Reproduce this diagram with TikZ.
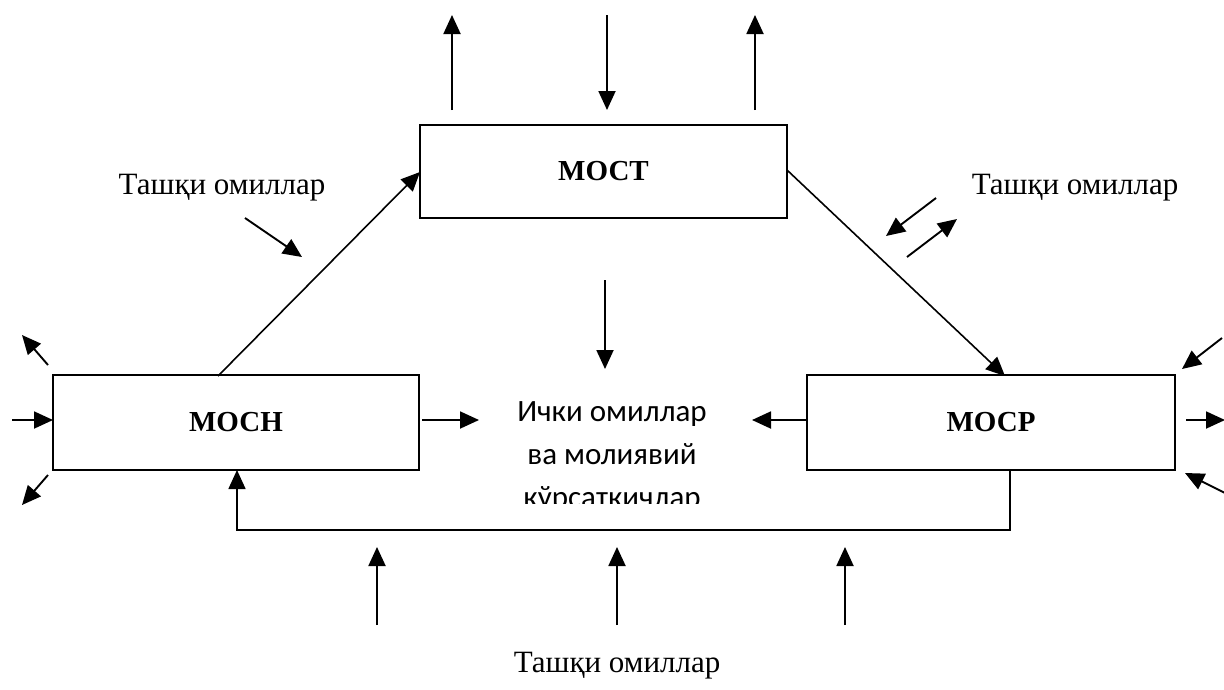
\documentclass[tikz,border=0pt]{standalone}
\usepackage{fontspec}
\setmainfont{Liberation Serif}
\newfontfamily\calib{Carlito}
\usetikzlibrary{arrows.meta}
\begin{document}
\begin{tikzpicture}[x=1pt,y=-1pt,
  boxst/.style={draw,line width=1.6pt,minimum width=#1,inner sep=0pt,font=\fontsize{29}{34}\selectfont\bfseries},
  tip/.style={-{Triangle[length=19pt,width=17pt]}},
  arr/.style={line width=1.9pt,tip},
  ln/.style={line width=1.6pt},
  lbl/.style={font=\fontsize{31}{36}\selectfont,inner sep=0pt}]
\useasboundingbox (0,0) rectangle (1224,689);
% boxes
\node[boxst=367pt,minimum height=93pt] (most) at (603.5,171.5) {МОСТ};
\node[boxst=366pt,minimum height=95pt] (mosh) at (236,422.5) {МОСН};
\node[boxst=368pt,minimum height=95pt] (mosr) at (991,422.5) {МОСР};
% centre text
\begin{scope}
\clip (480,380) rectangle (745,503);
\node[inner sep=0pt,align=center,font=\calib\fontsize{31}{43}\selectfont,anchor=base] (ichki) at (612,507) {Ички омиллар\\ва молиявий\\кўрсаткичлар};
\end{scope}
% labels
\node[lbl] (l1) at (222,188) {Ташқи омиллар};
\node[lbl] (l2) at (1075,188) {Ташқи омиллар};
\node[lbl] (l3) at (617,666) {Ташқи омиллар};
% main connectors
\coordinate (s1) at (218,376);
\coordinate (e1) at (420,172);
\draw[ln,tip] (s1) -- (e1);
\coordinate (s2) at (787,170);
\coordinate (e2) at (1005,376);
\draw[ln,tip] (s2) -- (e2);
% bottom feedback
\coordinate (b1) at (1010,470);
\coordinate (b2) at (1010,530);
\coordinate (b3) at (237,530);
\coordinate (b4) at (237,470);
\draw[ln,tip] (b1) -- (b2) -- (b3) -- (b4);
% top arrows
\coordinate (t1a) at (452,110); \coordinate (t1b) at (452,15);
\coordinate (t2a) at (607,15); \coordinate (t2b) at (607,110);
\coordinate (t3a) at (755,110); \coordinate (t3b) at (755,15);
\draw[arr] (t1a) -- (t1b);
\draw[arr] (t2a) -- (t2b);
\draw[arr] (t3a) -- (t3b);
% centre arrows
\coordinate (c1a) at (605,280); \coordinate (c1b) at (605,369);
\draw[arr] (c1a) -- (c1b);
\coordinate (c2a) at (422,420); \coordinate (c2b) at (479,420);
\draw[arr] (c2a) -- (c2b);
\coordinate (c3a) at (807,420); \coordinate (c3b) at (752,420);
\draw[arr] (c3a) -- (c3b);
% diagonal small arrows
\coordinate (d1a) at (245,218); \coordinate (d1b) at (302,257);
\draw[arr] (d1a) -- (d1b);
\coordinate (d2a) at (936,198); \coordinate (d2b) at (886,236);
\draw[arr] (d2a) -- (d2b);
\coordinate (d3a) at (907,257); \coordinate (d3b) at (957,219);
\draw[arr] (d3a) -- (d3b);
% left side
\coordinate (la1) at (48,365); \coordinate (lb1) at (22,335);
\draw[arr] (la1) -- (lb1);
\coordinate (la2) at (12,420); \coordinate (lb2) at (53,420);
\draw[arr] (la2) -- (lb2);
\coordinate (la3) at (48,475); \coordinate (lb3) at (22,505);
\draw[arr] (la3) -- (lb3);
% right side
\coordinate (ra1) at (1222,338); \coordinate (rb1) at (1182,369);
\draw[arr] (ra1) -- (rb1);
\coordinate (ra2) at (1186,420); \coordinate (rb2) at (1225,420);
\draw[arr] (ra2) -- (rb2);
\coordinate (ra3) at (1225,493); \coordinate (rb3) at (1185,473);
\draw[arr] (ra3) -- (rb3);
% bottom arrows
\coordinate (u1a) at (377,625); \coordinate (u1b) at (377,547);
\coordinate (u2a) at (617,625); \coordinate (u2b) at (617,547);
\coordinate (u3a) at (845,625); \coordinate (u3b) at (845,547);
\draw[arr] (u1a) -- (u1b);
\draw[arr] (u2a) -- (u2b);
\draw[arr] (u3a) -- (u3b);
\end{tikzpicture}
\end{document}
